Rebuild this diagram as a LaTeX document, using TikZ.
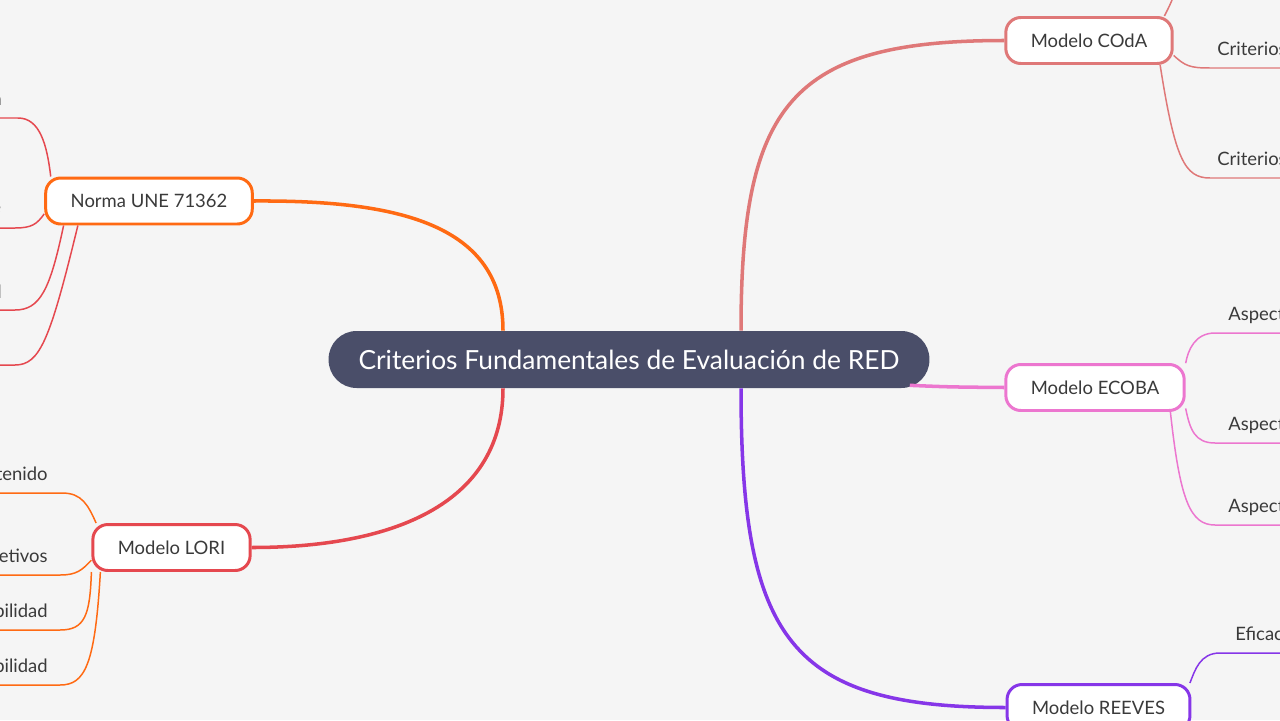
\documentclass[tikz,border=0pt]{standalone}
\usepackage{fontspec}
\setmainfont{Lato}

\definecolor{bgc}{HTML}{F5F5F5}
\definecolor{rootc}{HTML}{4A4E69}
\definecolor{txtc}{HTML}{3A3A3A}
\definecolor{orangec}{HTML}{FF6A13}
\definecolor{redc}{HTML}{E5484F}
\definecolor{salmonc}{HTML}{DF7878}
\definecolor{pinkc}{HTML}{EC76CF}
\definecolor{purplec}{HTML}{8636E8}

\tikzset{
  root/.style={fill=rootc, text=white, rounded corners=0.56cm, minimum height=1.14cm,
    inner xsep=0.6cm, font=\fontsize{15}{18}\selectfont},
  topic/.style={draw, line width=1.7pt, fill=white, text=txtc, rounded corners=0.3cm,
    minimum height=0.92cm, inner xsep=0.5cm, font=\fontsize{10.5}{13}\selectfont},
  leaf/.style={inner sep=0pt, text=txtc, font=\fontsize{10.5}{13}\selectfont},
  mainline/.style={line width=2pt},
  subline/.style={line width=0.85pt}
}

\begin{document}
\begin{tikzpicture}[x=0.02cm, y=-0.02cm]
\useasboundingbox (0,0) rectangle (1280,720);
\clip (0,0) rectangle (1280,720);
\fill[bgc] (0,0) rectangle (1280,720);

\node[root] (root) at (629,359.5) {Criterios Fundamentales de Evaluación de RED}; % Central
\node[topic, draw=orangec] (norma) at (149,201) {Norma UNE 71362}; % Topic.0
\node[topic, draw=redc] (lori) at (171.5,547.5) {Modelo LORI}; % Topic.1
\node[topic, draw=salmonc] (coda) at (1089,40.5) {Modelo COdA}; % Topic.2
\node[topic, draw=pinkc] (ecoba) at (1095,387.5) {Modelo ECOBA}; % Topic.3
\node[topic, draw=purplec] (reeves) at (1098.5,707.5) {Modelo REEVES}; % Topic.4

\path (root.north) ++(-126,0) coordinate (rootNW) ++(238,0) coordinate (rootNE);
\path (root.south) ++(-126,0) coordinate (rootSW) ++(238,0) coordinate (rootSE);
\path (root.south east) ++(-20,-3) coordinate (rootE);

\draw[mainline, orangec] (rootNW) .. controls (503,225) and (400,200) .. (norma.east);
\draw[mainline, redc] (rootSW) .. controls (503,500) and (400,547.5) .. (lori.east);
\draw[mainline, salmonc] (rootNE) .. controls (741,105) and (790,40.5) .. (coda.west);
\draw[mainline, pinkc] (rootE) .. controls (950,387) .. (ecoba.west);
\draw[mainline, purplec] (rootSE) .. controls (741,640) and (790,707.5) .. (reeves.west);

% Norma UNE 71362
\coordinate (n1e) at (-10,118);
\coordinate (n2e) at (-10,228);
\coordinate (n3e) at (-10,310);
\coordinate (n4e) at (-10,365);
\node[leaf, anchor=base east] (n1) at (2,105) {Descripción didáctica};
\node[leaf, anchor=base east] (n2) at (1.5,213) {Capacidad para generar aprendizaje};
\node[leaf, anchor=base east] (n3) at (2,298) {Adaptabilidad e interactividad};
\draw[subline, redc] (norma.166) .. controls (47,145) and (40,118) .. (18,118) -- (n1e);
\draw[subline, redc] (norma.187) .. controls (37,224) and (32,228) .. (15,228) -- (n2e);
\draw[subline, redc] (norma.196) .. controls (50,290) and (40,310) .. (15,310) -- (n3e);
\draw[subline, redc] (norma.199) .. controls (50,340) and (40,365) .. (15,365) -- (n4e);

% Modelo LORI
\coordinate (l1e) at (-10,493);
\coordinate (l2e) at (-10,575);
\coordinate (l3e) at (-10,630);
\coordinate (l4e) at (-10,685);
\node[leaf, anchor=base east] (l1) at (48,480) {Calidad del contenido};
\node[leaf, anchor=base east] (l2) at (48,562) {Alineación de objetivos};
\node[leaf, anchor=base east] (l3) at (48,617) {Usabilidad};
\node[leaf, anchor=base east] (l4) at (48,672) {Accesibilidad};
\draw[subline, orangec] (lori.162) .. controls (88,505) and (82,493) .. (62,493) -- (l1e);
\draw[subline, orangec] (lori.189) .. controls (82,570) and (77,575) .. (60,575) -- (l2e);
\draw[subline, orangec] (lori.197) .. controls (90,615) and (85,630) .. (60,630) -- (l3e);
\draw[subline, orangec] (lori.199) .. controls (95,665) and (85,685) .. (60,685) -- (l4e);

% Modelo COdA
\coordinate (c0e) at (1176,-10);
\coordinate (c1e) at (1290,68);
\coordinate (c2e) at (1290,178);
\node[leaf, anchor=base west] (c1) at (1217,55) {Criterios didácticos};
\node[leaf, anchor=base west] (c2) at (1217,165) {Criterios técnicos};
\draw[subline, salmonc] (coda.18) .. controls (1170,5) .. (c0e);
\draw[subline, salmonc] (coda.350) .. controls (1185,66) and (1190,68) .. (1210,68) -- (c1e);
\draw[subline, salmonc] (coda.341) .. controls (1175,160) and (1185,178) .. (1210,178) -- (c2e);

% Modelo ECOBA
\coordinate (e1e) at (1290,333);
\coordinate (e2e) at (1290,443);
\coordinate (e3e) at (1290,525);
\node[leaf, anchor=base west] (e1) at (1228,320) {Aspectos técnicos};
\node[leaf, anchor=base west] (e2) at (1228,430) {Aspectos pedagógicos};
\node[leaf, anchor=base west] (e3) at (1228,512) {Aspectos funcionales};
\draw[subline, pinkc] (ecoba.15) .. controls (1188,350) and (1195,333) .. (1215,333) -- (e1e);
\draw[subline, pinkc] (ecoba.347) .. controls (1190,430) and (1195,443) .. (1215,443) -- (e2e);
\draw[subline, pinkc] (ecoba.342) .. controls (1180,500) and (1190,525) .. (1215,525) -- (e3e);

% Modelo REEVES
\coordinate (r1e) at (1290,653);
\node[leaf, anchor=base west] (r1) at (1235,640) {Eficacia pedagógica};
\draw[subline, purplec] (reeves.15) .. controls (1195,670) and (1200,653) .. (1220,653) -- (r1e);

\end{tikzpicture}
\end{document}
